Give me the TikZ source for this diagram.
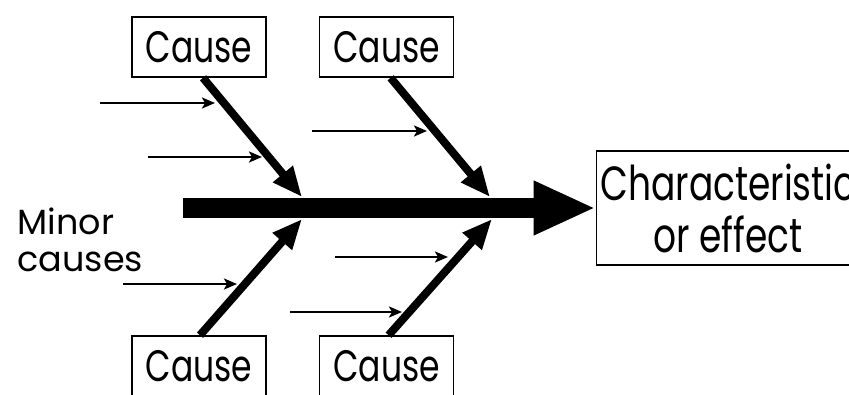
\documentclass[tikz,border=0pt]{standalone}
\usepackage{fontspec}
\setmainfont{Poppins}
\newfontfamily\boxfont{Poppins}[FakeStretch=0.75]
\usetikzlibrary{arrows.meta,positioning}

\begin{document}
\begin{tikzpicture}[x=1pt,y=1pt,
    cause/.style={draw,line width=1.6pt,minimum width=134pt,minimum height=60pt,
      inner sep=0pt,font=\boxfont\fontsize{44}{48}\selectfont},
    bone/.style={line width=8pt,-{Triangle[length=30pt,width=24pt]}},
    minor/.style={line width=2.4pt,-{Stealth[length=13pt,width=11pt,inset=3pt]}},
    spine/.style={line width=20pt,-{Triangle[length=62pt,width=50pt]}}]
  \useasboundingbox (0,0) rectangle (849,394);
  % the four cause boxes
  \node[cause] (c1) at (199,347) {Cause};
  \node[cause] (c2) [right=52pt of c1] {Cause};
  \node[cause] (c3) at (199,28) {Cause};
  \node[cause] (c4) [right=52pt of c3] {Cause};
  % head of the fish
  \node[draw,line width=1.6pt,minimum width=263pt,minimum height=114pt,inner sep=0pt,
    align=center,font=\boxfont\fontsize{48}{52}\selectfont] (eff) at (728,186)
    {Characteristic\\or effect};
  \node[align=left,anchor=base west,font=\fontsize{35}{37}\selectfont]
    (minor) at (14,122) {Minor\\causes};
  % spine and bones
  \coordinate (tail) at (183,186);
  \coordinate (j1) at (302,197);
  \coordinate (j2) at (490,197);
  \coordinate (j3) at (302,175);
  \coordinate (j4) at (492,175);
  \draw[spine] (tail) -- (eff.west);
  \draw[bone] ([xshift=4pt]c1.south) -- (j1);
  \draw[bone] ([xshift=4pt]c2.south) -- (j2);
  \draw[bone] ([xshift=1pt]c3.north) -- (j3);
  \draw[bone] ([xshift=2pt]c4.north) -- (j4);
  % minor causes
  \coordinate (s1) at (100,291); \coordinate (e1) at (215,291);
  \coordinate (s2) at (148,237); \coordinate (e2) at (262,237);
  \coordinate (s3) at (312,263); \coordinate (e3) at (427,263);
  \coordinate (s4) at (123,110); \coordinate (e4) at (237,110);
  \coordinate (s5) at (335,137); \coordinate (e5) at (448,137);
  \coordinate (s6) at (290,82);  \coordinate (e6) at (402,82);
  \foreach \i in {1,...,6}
    \draw[minor] (s\i) -- (e\i);
\end{tikzpicture}
\end{document}
